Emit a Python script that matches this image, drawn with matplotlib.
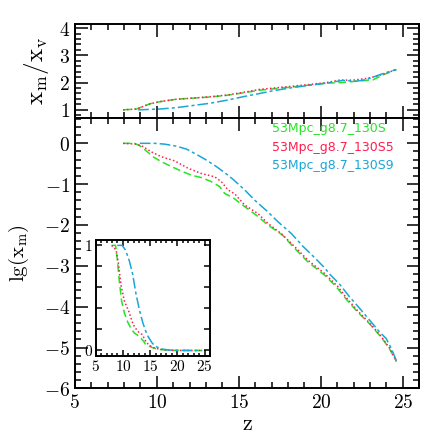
import numpy as np
import matplotlib
matplotlib.use('Agg')
import matplotlib.pyplot as plt
from matplotlib.ticker import MultipleLocator, FuncFormatter

plt.rcParams['mathtext.fontset'] = 'cm'
plt.rcParams['font.family'] = ['DejaVu Sans']

names = ['53Mpc_g8.7_130S', '53Mpc_g8.7_130S5', '53Mpc_g8.7_130S9']
colors = ['#22e622', '#ff1f4f', '#1aa6d6']
styles = [(0, (5, 2.5)), (0, (1, 1.5)), (0, (7, 2, 2, 2))]

# lg(x_m) vs z, main panel
z_g = [7.94, 8.65, 8.96, 9.37, 9.77, 10.28, 10.89, 11.5, 12.1, 12.72, 13.33, 13.83, 14.14, 14.64,
       15.35, 16.06, 16.77, 17.67, 18.4, 19.2, 19.51, 20.23, 20.93, 21.55, 22.26, 22.97, 23.68, 24.18, 24.6]
lg_g = [0, 0, -0.06, -0.19, -0.33, -0.45, -0.57, -0.68, -0.78, -0.84, -0.94, -1.06, -1.23, -1.33,
        -1.55, -1.76, -2.0, -2.25, -2.57, -2.9, -3.0, -3.23, -3.51, -3.82, -4.14, -4.42, -4.75, -5.03, -5.34]
z_r = [7.94, 8.76, 9.16, 9.67, 10.28, 11.09, 11.9, 12.72, 13.53, 13.93, 14.34, 14.75, 15.35, 16.16,
       16.77, 17.58, 18.4, 19.2, 20.23, 21.04, 21.55, 22.26, 22.97, 23.68, 24.18, 24.6]
lg_r = [0, -0.02, -0.08, -0.21, -0.33, -0.43, -0.61, -0.74, -0.82, -0.94, -1.14, -1.24, -1.51, -1.72,
        -1.96, -2.21, -2.53, -2.86, -3.19, -3.51, -3.78, -4.11, -4.4, -4.73, -5.01, -5.34]
z_b = [8.96, 9.87, 10.48, 11.19, 11.8, 12.41, 13.02, 13.63, 14.14, 14.64, 15.35, 15.96, 16.77, 17.38,
       18.2, 18.9, 19.62, 20.23, 20.53, 21.14, 21.75, 22.36, 22.97, 23.58, 23.98, 24.29, 24.6]
lg_b = [0, 0, -0.02, -0.07, -0.14, -0.27, -0.41, -0.57, -0.72, -0.88, -1.14, -1.39, -1.68, -1.92,
        -2.21, -2.52, -2.8, -3.05, -3.2, -3.45, -3.76, -4.04, -4.33, -4.62, -4.78, -5.02, -5.32]

# x_m / x_v, top panel
zr_g = [7.94, 8.76, 9.06, 9.57, 10.18, 11.19, 12.2, 13.22, 14.24, 15.25, 16.27, 17.28, 18.3, 19.31,
        20.33, 21.24, 22.16, 23.17, 23.78, 24.6]
ratio_g = [1.0, 1.03, 1.1, 1.22, 1.3, 1.39, 1.43, 1.47, 1.53, 1.62, 1.72, 1.78, 1.84, 1.91,
           1.98, 2.0, 2.05, 2.1, 2.28, 2.48]
zr_r = [7.94, 8.76, 9.06, 9.57, 10.18, 11.19, 12.2, 13.22, 14.24, 15.25, 16.27, 17.28, 18.3, 19.31,
        20.33, 21.14, 21.95, 22.77, 23.37, 23.98, 24.6]
ratio_r = [1.0, 1.03, 1.1, 1.22, 1.3, 1.39, 1.43, 1.48, 1.54, 1.64, 1.75, 1.81, 1.87, 1.93,
           2.0, 2.09, 2.09, 2.15, 2.23, 2.35, 2.48]
zr_b = [8.86, 10.18, 11.19, 12.2, 13.22, 14.24, 15.25, 16.27, 17.08, 18.3, 19.31, 20.33, 21.34,
        22.16, 22.77, 23.78, 24.6]
ratio_b = [1.0, 1.03, 1.08, 1.16, 1.24, 1.35, 1.48, 1.6, 1.7, 1.82, 1.9, 1.98, 2.08,
           2.05, 2.11, 2.33, 2.48]

main = [(z_g, lg_g), (z_r, lg_r), (z_b, lg_b)]
top = [(zr_g, ratio_g), (zr_r, ratio_r), (zr_b, ratio_b)]

mfmt = FuncFormatter(lambda v, p: r'$%g$' % round(v, 6))


def style_axis(ax, major=9, minor=4.5, size=14):
    ax.tick_params(which='both', direction='in', top=True, right=True, width=1.1)
    ax.tick_params(which='major', length=major, labelsize=size)
    ax.tick_params(which='minor', length=minor)
    for s in ax.spines.values():
        s.set_linewidth(1.4)


fig = plt.figure(figsize=(4.43, 4.43), dpi=100)
ax_top = fig.add_axes([0.169, 0.7336, 0.7775, 0.2122])
ax = fig.add_axes([0.169, 0.1234, 0.7775, 0.6102])

for (x, y), c, ls in zip(top, colors, styles):
    ax_top.plot(x, y, color=c, ls=ls, lw=1.1)
ax_top.set_xlim(5, 26)
ax_top.set_ylim(0.7, 4.15)
ax_top.xaxis.set_major_locator(MultipleLocator(5))
ax_top.xaxis.set_minor_locator(MultipleLocator(1))
ax_top.yaxis.set_major_locator(MultipleLocator(1))
ax_top.yaxis.set_minor_locator(MultipleLocator(0.2))
ax_top.yaxis.set_major_formatter(mfmt)
ax_top.set_xticklabels([])
style_axis(ax_top)
ax_top.set_ylabel(r'$\mathrm{x_m/x_v}$', fontsize=18, labelpad=6)

for (x, y), c, ls in zip(main, colors, styles):
    ax.plot(x, y, color=c, ls=ls, lw=1.1)
ax.set_xlim(5, 26)
ax.set_ylim(-6, 0.62)
ax.xaxis.set_major_locator(MultipleLocator(5))
ax.xaxis.set_minor_locator(MultipleLocator(1))
ax.yaxis.set_major_locator(MultipleLocator(1))
ax.yaxis.set_minor_locator(MultipleLocator(0.2))
ax.xaxis.set_major_formatter(mfmt)
ax.yaxis.set_major_formatter(mfmt)
style_axis(ax)
ax.set_xlabel(r'$\mathrm{z}$', fontsize=16, labelpad=1)
ax.set_ylabel(r'$\mathrm{lg(x_m)}$', fontsize=15, labelpad=9)

for i, (n, c) in enumerate(zip(names, colors)):
    ax.text(0.572, 0.96 - i * 0.068, n, color=c, fontsize=9, transform=ax.transAxes,
            va='center', ha='left')

# inset: x_m in linear scale
ins = fig.add_axes([0.216, 0.197, 0.258, 0.261])
for (x, y), c, ls in zip(main, colors, styles):
    ins.plot(x, 10 ** np.array(y), color=c, ls=ls, lw=1.1)
ins.set_xlim(5, 26)
ins.set_ylim(-0.05, 1.05)
ins.xaxis.set_major_locator(MultipleLocator(5))
ins.xaxis.set_minor_locator(MultipleLocator(1))
ins.yaxis.set_major_locator(MultipleLocator(0.2))
ins.xaxis.set_major_formatter(mfmt)
ins.yaxis.set_major_formatter(FuncFormatter(
    lambda v, p: r'$%d$' % round(v) if abs(v) < 1e-6 or abs(v - 1) < 1e-6 else ''))
style_axis(ins, major=4.5, minor=2.5, size=11)
ins.tick_params(axis='both', pad=2)

fig.savefig('out.png', dpi=100)
